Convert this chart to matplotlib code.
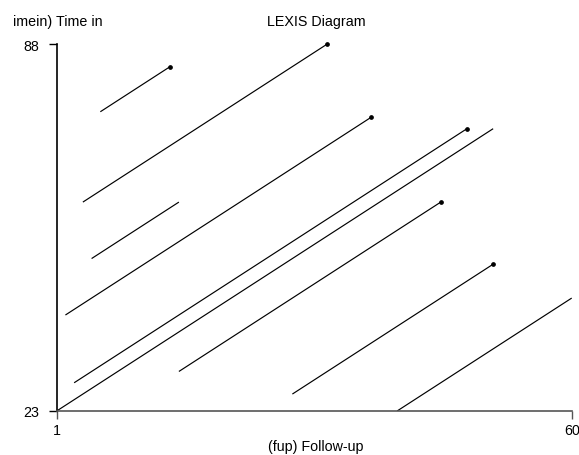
import matplotlib.pyplot as plt

plt.rcParams['font.family'] = ['Liberation Sans', 'DejaVu Sans']

# follow-up start, time-in at start, duration, failure flag
fup_start = [6, 4, 5, 2, 3, 1, 15, 28, 40]
timein_start = [76, 60, 50, 40, 28, 23, 30, 26, 23]
duration = [8, 28, 10, 35, 45, 50, 30, 23, 20]
failed = [1, 1, 0, 1, 1, 0, 1, 1, 0]

x_ticks = [1, 60]
y_ticks = [23, 88]

fig = plt.figure(figsize=(5.79, 4.56), dpi=100)
ax = fig.add_axes([0.0979, 0.0965, 0.8895, 0.8048])

for x0, y0, d, f in zip(fup_start, timein_start, duration, failed):
    ax.plot([x0, x0 + d], [y0, y0 + d], color='black', lw=0.85, solid_capstyle='butt')
    if f:
        ax.plot(x0 + d, y0 + d, 'o', color='black', ms=2.4, clip_on=False)

ax.set_xlim(x_ticks[0], x_ticks[1])
ax.set_ylim(y_ticks[0], y_ticks[1])
ax.set_xticks(x_ticks)
ax.set_yticks(y_ticks)
ax.tick_params(direction='out', length=5.5, width=1, labelsize=10.3, colors='black')
ax.tick_params(axis='y', pad=7)
ax.tick_params(axis='x', pad=3.5, color='#555555')

ax.spines['top'].set_visible(False)
ax.spines['right'].set_visible(False)
ax.spines['left'].set_linewidth(1.2)
ax.spines['bottom'].set_linewidth(1.2)
ax.spines['bottom'].set_color('#555555')

fig.text(316 / 579, 1 - 22 / 456, 'LEXIS Diagram', ha='center', va='center', fontsize=10.3)
fig.text(58 / 579, 1 - 22 / 456, 'imein) Time in', ha='center', va='center', fontsize=10.3)
fig.text(316 / 579, 1 - 447 / 456, '(fup) Follow-up', ha='center', va='center', fontsize=10.3)

fig.savefig('out.png', dpi=100)
